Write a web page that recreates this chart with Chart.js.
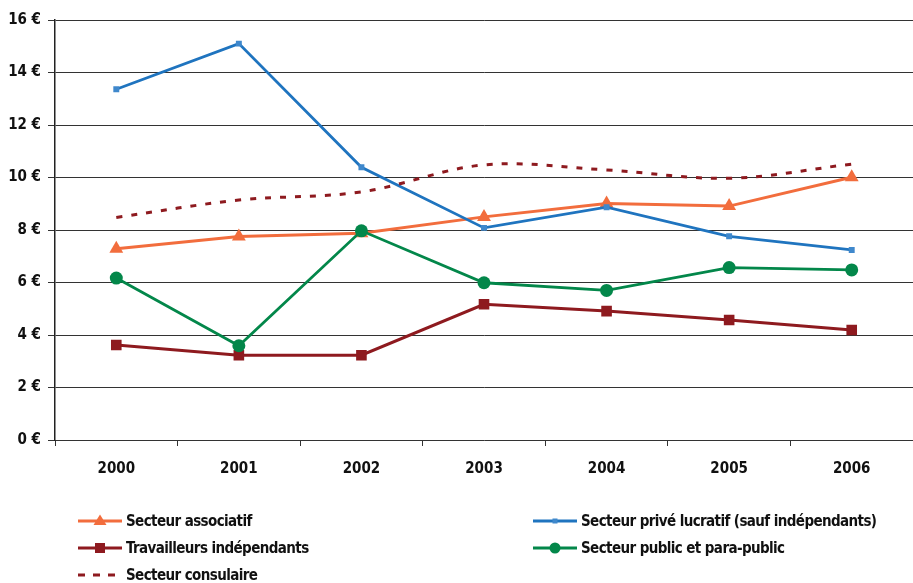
<!DOCTYPE html>
<html>
<head>
<meta charset="utf-8">
<script src="https://cdn.jsdelivr.net/npm/chart.js@4.4.0/dist/chart.umd.min.js"></script>
<style>
  html, body { margin: 0; padding: 0; background: #fff; overflow: hidden; }
  #wrap { width: 921px; height: 583px; position: relative; }
</style>
</head>
<body>
<div id="wrap"><canvas id="c"></canvas></div>
<script>
const years = ['2000', '2001', '2002', '2003', '2004', '2005', '2006'];
const yTicks = [0, 2, 4, 6, 8, 10, 12, 14, 16];
const associatif = [7.29, 7.75, 7.88, 8.50, 9.01, 8.91, 10.01];
const priveLucratif = [13.36, 15.10, 10.39, 8.08, 8.87, 7.76, 7.24];
const travailleurs = [3.62, 3.23, 3.23, 5.17, 4.91, 4.57, 4.19];
const publicPara = [6.17, 3.59, 7.97, 5.99, 5.70, 6.57, 6.48];
const consulaire = [8.48, 9.14, 9.45, 10.48, 10.29, 9.97, 10.51];

const FONT = "'Liberation Sans Narrow', 'DejaVu Sans Condensed', 'Roboto Condensed', sans-serif";

const datasets = [
  { label: 'Secteur associatif', data: associatif, borderColor: '#F26D3D', backgroundColor: '#F26D3D',
    borderWidth: 3, pointStyle: 'triangle', pointRadius: 8, order: 5 },
  { label: 'Secteur privé lucratif (sauf indépendants)', data: priveLucratif, borderColor: '#1F74BF', backgroundColor: '#3F88CC',
    borderWidth: 2.8, pointStyle: 'rect', pointRadius: 4.2, order: 4 },
  { label: 'Travailleurs indépendants', data: travailleurs, borderColor: '#8E1A1F', backgroundColor: '#8E1A1F',
    borderWidth: 3, pointStyle: 'rect', pointRadius: 7.5, order: 3 },
  { label: 'Secteur public et para-public', data: publicPara, borderColor: '#03874A', backgroundColor: '#03874A',
    borderWidth: 2.8, pointStyle: 'circle', pointRadius: 6.5, order: 2 },
  { label: 'Secteur consulaire', data: consulaire, borderColor: '#8E1A1F', backgroundColor: '#8E1A1F',
    borderWidth: 3, borderDash: [6, 9], pointRadius: 0, tension: 0.35, order: 1 }
];
datasets.forEach(d => { if (d.tension === undefined) d.tension = 0; d.fill = false; d.pointBorderWidth = 0; d.borderCapStyle = 'butt'; });

const legendPlugin = {
  id: 'customLegend',
  afterDraw(chart) {
    const ctx = chart.ctx;
    const cols = [78, 533];
    const rows = [521, 548, 575];
    chart.data.datasets.forEach((ds, i) => {
      const x = cols[i % 2];
      const y = rows[Math.floor(i / 2)];
      ctx.save();
      ctx.strokeStyle = ds.borderColor;
      ctx.lineWidth = ds.borderWidth;
      ctx.setLineDash(ds.borderDash ? [7, 8] : []);
      ctx.beginPath();
      ctx.moveTo(x, y);
      ctx.lineTo(x + 44, y);
      ctx.stroke();
      ctx.setLineDash([]);
      if (ds.pointRadius > 0) {
        ctx.fillStyle = ds.backgroundColor;
        const cx = x + 22;
        if (ds.pointStyle === 'triangle') {
          const r = 6.5;
          ctx.beginPath();
          ctx.moveTo(cx, y - r);
          ctx.lineTo(cx + r, y + r * 0.6);
          ctx.lineTo(cx - r, y + r * 0.6);
          ctx.closePath();
          ctx.fill();
        } else if (ds.pointStyle === 'rect') {
          const s = ds.pointRadius > 5 ? 5 : 2.5;
          ctx.fillRect(cx - s, y - s, s * 2, s * 2);
        } else {
          ctx.beginPath();
          ctx.arc(cx, y, 5.5, 0, Math.PI * 2);
          ctx.fill();
        }
      }
      ctx.fillStyle = '#111';
      ctx.font = "bold 15px " + FONT;
      try { ctx.letterSpacing = '-0.6px'; } catch (e) {}
      ctx.textBaseline = 'middle';
      ctx.textAlign = 'left';
      ctx.fillText(ds.label, x + 48, y + 1);
      ctx.restore();
    });
  }
};

new Chart(document.getElementById('c'), {
  type: 'line',
  data: { labels: years, datasets: datasets },
  options: {
    responsive: true,
    maintainAspectRatio: false,
    animation: false,
    layout: { padding: { top: 20, left: 0, right: 0, bottom: 0 } },
    plugins: { legend: { display: false }, tooltip: { enabled: false } },
    scales: {
      x: {
        offset: true,
        grid: { drawOnChartArea: false, drawTicks: true, tickLength: 6, offset: true, color: '#333' },
        border: { display: false },
        ticks: { color: '#111', font: { family: FONT, weight: 'bold', size: 15 }, padding: 14, maxRotation: 0 },
        afterFit(scale) { scale.height = 143; }
      },
      y: {
        min: 0, max: 16,
        afterBuildTicks(scale) { scale.ticks = yTicks.map(v => ({ value: v })); },
        grid: { color: '#333', lineWidth: 1, tickLength: 7 },
        border: { display: true, color: '#222', width: 1.5 },
        ticks: { color: '#111', font: { family: FONT, weight: 'bold', size: 15 }, padding: 7,
          callback: v => v + ' €' },
        afterFit(scale) { scale.width = 55; }
      }
    }
  },
  plugins: [legendPlugin]
});
</script>
</body>
</html>
